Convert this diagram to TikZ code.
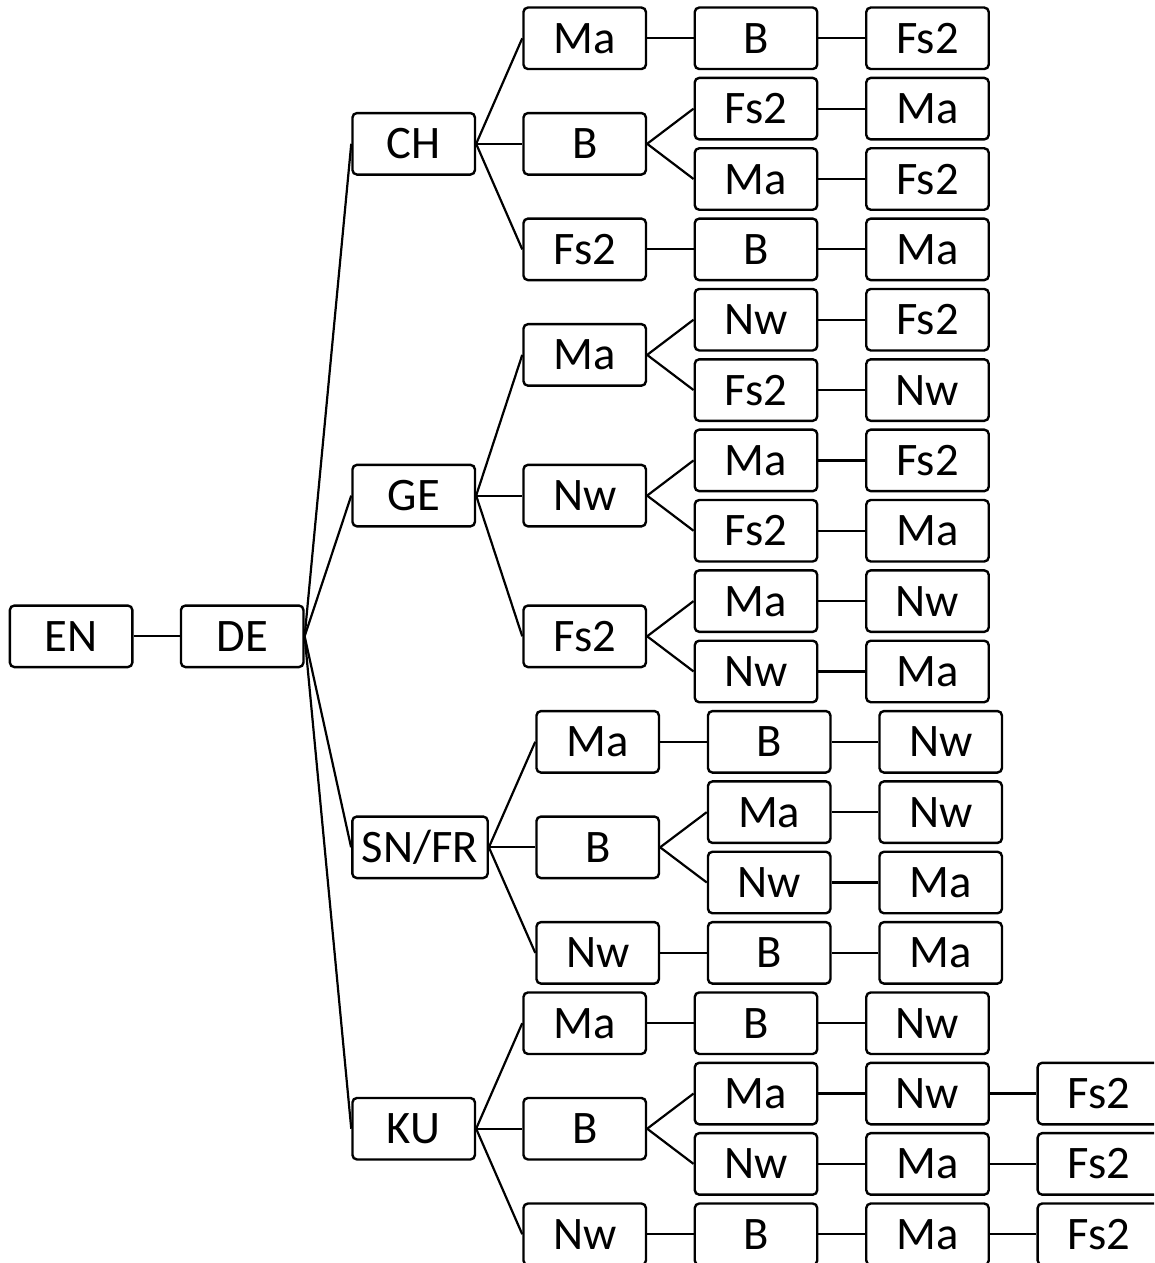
\documentclass[tikz,border=0pt]{standalone}
\usepackage{fontspec}
\setmainfont{Carlito}
\begin{document}
\begin{tikzpicture}[x=1pt,y=-1pt,
  bx/.style={draw=black,line width=2.4pt,rounded corners=4.5pt,minimum width=122.5pt,minimum height=61.5pt,inner sep=0pt,text height=30pt,text depth=0pt,font=\fontsize{46.6}{56}\selectfont},
  wbx/.style={bx,minimum width=135.4pt},
  ln/.style={line width=2.2pt}]
\clip (0,0) rectangle (1154,1263);
% level 0/1
\node[bx] (en) at (71.1,636.3) {EN};
\node[bx] (de) at (242.2,636.3) {DE};
% level 2
\node[bx] (ch) at (413.7,143.8) {CH};
\node[bx] (ge) at (413.7,495.6) {GE};
\node[wbx] (sn) at (420,847.3) {SN/FR};
\node[bx] (ku) at (413.7,1128.7) {KU};
% CH subtree
\node[bx] (ch1) at (584.7,38.3) {Ma};
\node[bx] (ch1b) at (756,38.3) {B};
\node[bx] (ch1c) at (927.5,38.3) {Fs2};
\node[bx] (ch2) at (584.7,143.8) {B};
\node[bx] (ch2a) at (756,108.65) {Fs2};
\node[bx] (ch2aa) at (927.5,108.65) {Ma};
\node[bx] (ch2b) at (756,179.0) {Ma};
\node[bx] (ch2bb) at (927.5,179.0) {Fs2};
\node[bx] (ch3) at (584.7,249.35) {Fs2};
\node[bx] (ch3b) at (756,249.35) {B};
\node[bx] (ch3c) at (927.5,249.35) {Ma};
% GE subtree
\node[bx] (ge1) at (584.7,354.9) {Ma};
\node[bx] (ge1a) at (756,319.7) {Nw};
\node[bx] (ge1aa) at (927.5,319.7) {Fs2};
\node[bx] (ge1b) at (756,390.05) {Fs2};
\node[bx] (ge1bb) at (927.5,390.05) {Nw};
\node[bx] (ge2) at (584.7,495.6) {Nw};
\node[bx] (ge2a) at (756,460.4) {Ma};
\node[bx] (ge2aa) at (927.5,460.4) {Fs2};
\node[bx] (ge2b) at (756,530.75) {Fs2};
\node[bx] (ge2bb) at (927.5,530.75) {Ma};
\node[bx] (ge3) at (584.7,636.3) {Fs2};
\node[bx] (ge3a) at (756,601.1) {Ma};
\node[bx] (ge3aa) at (927.5,601.1) {Nw};
\node[bx] (ge3b) at (756,671.45) {Nw};
\node[bx] (ge3bb) at (927.5,671.45) {Ma};
% SN/FR subtree
\node[bx] (sn1) at (597.7,741.8) {Ma};
\node[bx] (sn1b) at (769.2,741.8) {B};
\node[bx] (sn1c) at (940.7,741.8) {Nw};
\node[bx] (sn2) at (597.7,847.3) {B};
\node[bx] (sn2a) at (769.2,812.15) {Ma};
\node[bx] (sn2aa) at (940.7,812.15) {Nw};
\node[bx] (sn2b) at (769.2,882.5) {Nw};
\node[bx] (sn2bb) at (940.7,882.5) {Ma};
\node[bx] (sn3) at (597.7,952.85) {Nw};
\node[bx] (sn3b) at (769.2,952.85) {B};
\node[bx] (sn3c) at (940.7,952.85) {Ma};
% KU subtree
\node[bx] (ku1) at (584.7,1023.2) {Ma};
\node[bx] (ku1b) at (756,1023.2) {B};
\node[bx] (ku1c) at (927.5,1023.2) {Nw};
\node[bx] (ku2) at (584.7,1128.7) {B};
\node[bx] (ku2a) at (756,1093.55) {Ma};
\node[bx] (ku2aa) at (927.5,1093.55) {Nw};
\node[bx] (ku2aaa) at (1098.9,1093.55) {Fs2};
\node[bx] (ku2b) at (756,1163.9) {Nw};
\node[bx] (ku2bb) at (927.5,1163.9) {Ma};
\node[bx] (ku2bbb) at (1098.9,1163.9) {Fs2};
\node[bx] (ku3) at (584.7,1234.25) {Nw};
\node[bx] (ku3b) at (756,1234.25) {B};
\node[bx] (ku3c) at (927.5,1234.25) {Ma};
\node[bx] (ku3d) at (1098.9,1234.25) {Fs2};
% connectors
\draw[ln] (en.east) -- (de.west);
\foreach \t in {ch,ge,sn,ku} \draw[ln] (de.east) -- (\t.west);
\foreach \p in {ch,ge,sn,ku} \foreach \c in {1,2,3} \draw[ln] (\p.east) -- (\p\c.west);
\foreach \a/\b in {ch1/ch1b,ch1b/ch1c,ch3/ch3b,ch3b/ch3c,sn1/sn1b,sn1b/sn1c,sn3/sn3b,sn3b/sn3c,ku1/ku1b,ku1b/ku1c,ku3/ku3b,ku3b/ku3c,ku3c/ku3d}
  \draw[ln] (\a.east) -- (\b.west);
\foreach \p in {ch2,ge1,ge2,ge3,sn2,ku2} {
  \draw[ln] (\p.east) -- (\p a.west);
  \draw[ln] (\p.east) -- (\p b.west);
  \draw[ln] (\p a.east) -- (\p aa.west);
  \draw[ln] (\p b.east) -- (\p bb.west);
}
\draw[ln] (ku2aa.east) -- (ku2aaa.west);
\draw[ln] (ku2bb.east) -- (ku2bbb.west);
\end{tikzpicture}
\end{document}
